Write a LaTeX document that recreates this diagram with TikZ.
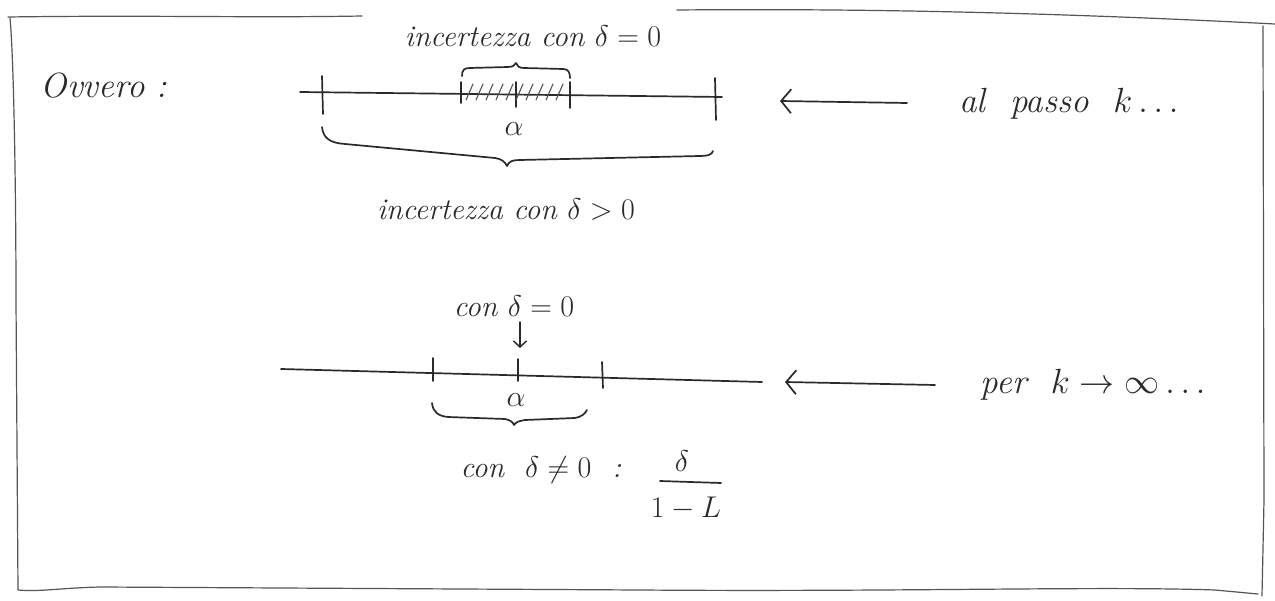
\RequirePackage{fix-cm}
\documentclass[tikz,border=0pt]{standalone}
\usepackage{fontspec}
\usetikzlibrary{arrows.meta}
\definecolor{inkc}{HTML}{2A2A2A}
\definecolor{framec}{HTML}{555555}
\begin{document}
\begin{tikzpicture}[x=1pt,y=-1pt,
  ink/.style={line width=1.7pt, draw=inkc, line cap=round, line join=round},
  thinink/.style={line width=1.1pt, draw=inkc!80, line cap=round},
  framel/.style={line width=1.2pt, draw=framec, line cap=round, line join=round},
  lbl/.style={text=inkc, inner sep=0pt, font=\fontsize{30}{34}\selectfont\itshape},
  biglbl/.style={text=inkc, inner sep=0pt, font=\fontsize{35}{40}\selectfont\itshape},
  barb/.style={-{Straight Barb[length=10pt,width=24pt,line width=1.7pt]}},
  smallbarb/.style={-{Straight Barb[length=6pt,width=13pt,line width=1.5pt]}}]
\useasboundingbox (0,0) rectangle (1275,601);
\fill[white] (0,0) rectangle (1275,601);

% ---- frame ----
\draw[framel] (8,17) .. controls (150,15) and (250,18) .. (362,16);
\draw[framel] (677,10) .. controls (900,8) and (1100,15) .. (1275,24);
\draw[framel] (10,18) .. controls (14,60) and (16,200) .. (16,300) -- (18,590)
  .. controls (40,592) and (60,588) .. (100,587) -- (640,590)
  .. controls (900,592) and (1100,586) .. (1215,590) -- (1258,594);
\draw[framel] (1263,26) -- (1264,500) -- (1262,596);

% ---- upper diagram ----
\node[biglbl] (ovvero) at (104,86) {Ovvero :};
\node[lbl] (inc0) at (533,36) {incertezza con $\delta=0$};

\draw[ink] (300,92) -- (722,97);
\draw[ink] (322,76) -- (323,114);
\draw[ink] (715,78) -- (716,120);
\draw[ink] (461,82) -- (461,103);
\draw[ink] (516,82) -- (516,107);
\draw[ink] (570,82) -- (570,108);
\foreach \h in {466,476,...,560} \draw[thinink] (\h,100) -- (\h+7,84);

% small brace above hatched interval
\draw[ink] (462,76) .. controls (462,70) and (464,68) .. (470,68) -- (508,67)
  .. controls (513,67) and (515,65) .. (516,63)
  .. controls (517,66) and (519,68) .. (524,68) -- (563,69)
  .. controls (568,69) and (570,72) .. (570,78);

\node[lbl] (alpha1) at (514,129) {$\alpha$};

% big brace below
\draw[ink] (322,127) .. controls (323,138) and (330,143) .. (345,144) -- (495,158)
  .. controls (502,159) and (505,162) .. (507,166)
  .. controls (509,161) and (513,160) .. (520,160) -- (700,156)
  .. controls (707,156) and (712,155) .. (713,151);

\node[lbl] (incp) at (506,209) {incertezza con $\delta>0$};

\coordinate (a1t) at (907,103);
\coordinate (a1h) at (780,101);
\draw[ink,barb] (a1t) -- (a1h);
\node[biglbl] (alpasso) at (1069,104) {al\ \ passo\ \ $k\dots$};

% ---- lower diagram ----
\node[lbl] (con0) at (514,306) {con $\delta=0$};
\coordinate (dat) at (520,322);
\coordinate (dah) at (520,348);
\draw[ink,smallbarb] (dat) -- (dah);

\draw[ink] (281,369) -- (762,382);
\draw[ink] (433,358) -- (433,381);
\draw[ink] (518,359) -- (518,381);
\draw[ink] (602,362) -- (603,388);

\node[lbl] (alpha2) at (516,400) {$\alpha$};

\draw[ink] (432,403) .. controls (433,412) and (438,416) .. (448,417) -- (505,419)
  .. controls (510,420) and (513,422) .. (514,425)
  .. controls (516,422) and (519,421) .. (525,420) -- (575,418)
  .. controls (581,417) and (585,414) .. (587,410);

\node[lbl] (conne) at (541,470) {con\ \ $\delta\neq0$\ \ :};
\node[lbl] (num) at (682,461) {$\delta$};
\coordinate (barl) at (660,481);
\coordinate (barr) at (721,483);
\draw[ink] (barl) -- (barr);
\node[lbl] (den) at (686,508) {$1-L$};

\coordinate (a2t) at (935,385);
\coordinate (a2h) at (785,382);
\draw[ink,barb] (a2t) -- (a2h);
\node[biglbl] (perk) at (1093,385) {per\ \ $k\to\infty\dots$};
\end{tikzpicture}
\end{document}
